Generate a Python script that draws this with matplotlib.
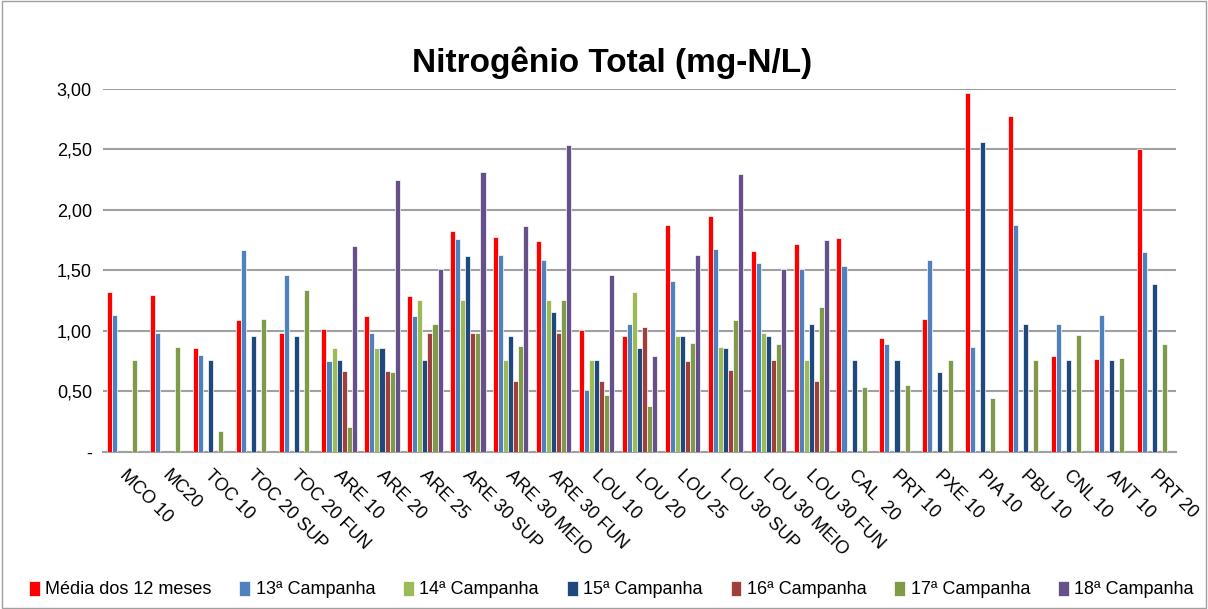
import numpy as np
import matplotlib
matplotlib.use("Agg")
import matplotlib.pyplot as plt
from matplotlib.patches import Rectangle

nan = np.nan
categories = ["MCO 10", "MC20", "TOC 10", "TOC 20 SUP", "TOC 20 FUN", "ARE 10", "ARE 20",
              "ARE 25", "ARE 30 SUP", "ARE 30 MEIO", "ARE 30 FUN", "LOU 10", "LOU 20",
              "LOU 25", "LOU 30 SUP", "LOU 30 MEIO", "LOU 30 FUN", "CAL  20", "PRT 10",
              "PXE 10", "PIA 10", "PBU 10", "CNL 10", "ANT 10", "PRT 20"]

media = [1.32, 1.30, 0.86, 1.09, 0.98, 1.02, 1.12, 1.29, 1.83, 1.78, 1.74, 1.01, 0.96,
         1.88, 1.95, 1.66, 1.72, 1.77, 0.94, 1.10, 2.97, 2.78, 0.79, 0.77, 2.50]
c13 = [1.13, 0.98, 0.80, 1.67, 1.46, 0.75, 0.98, 1.12, 1.76, 1.63, 1.59, 0.51, 1.06,
       1.41, 1.68, 1.56, 1.51, 1.54, 0.89, 1.59, 0.87, 1.88, 1.06, 1.13, 1.65]
c14 = [nan, nan, nan, nan, nan, 0.86, 0.86, 1.26, 1.26, 0.76, 1.26, 0.76, 1.32,
       0.96, 0.87, 0.98, 0.76, nan, nan, nan, nan, nan, nan, nan, nan]
c15 = [nan, nan, 0.76, 0.96, 0.96, 0.76, 0.86, 0.76, 1.62, 0.96, 1.16, 0.76, 0.86,
       0.96, 0.86, 0.96, 1.06, 0.76, 0.76, 0.66, 2.56, 1.06, 0.76, 0.76, 1.39]
c16 = [nan, nan, nan, nan, nan, 0.67, 0.67, 0.98, 0.98, 0.59, 0.98, 0.59, 1.03,
       0.75, 0.68, 0.76, 0.59, nan, nan, nan, nan, nan, nan, nan, nan]
c17 = [0.76, 0.87, 0.17, 1.10, 1.34, 0.21, 0.66, 1.06, 0.98, 0.88, 1.26, 0.47, 0.38,
       0.90, 1.09, 0.89, 1.20, 0.54, 0.55, 0.76, 0.45, 0.76, 0.97, 0.78, 0.89]
c18 = [nan, nan, nan, nan, nan, 1.70, 2.25, 1.51, 2.31, 1.87, 2.54, 1.46, 0.79,
       1.63, 2.30, 1.51, 1.75, nan, nan, nan, nan, nan, nan, nan, nan]

series_names = ["Média dos 12 meses", "13ª Campanha", "14ª Campanha", "15ª Campanha",
                "16ª Campanha", "17ª Campanha", "18ª Campanha"]
series = [media, c13, c14, c15, c16, c17, c18]
colors = ["#FF0000", "#4F81BD", "#9BBB59", "#1F497D", "#A0403D", "#7F9A48", "#66508A"]

yticks = [0, 0.5, 1.0, 1.5, 2.0, 2.5, 3.0]
ytick_labels = ["-", "0,50", "1,00", "1,50", "2,00", "2,50", "3,00"]

plt.rcParams['font.family'] = ['Liberation Sans', 'DejaVu Sans']

fig = plt.figure(figsize=(12.08, 6.09), dpi=100)
ax = fig.add_axes([0.0853, 0.2578, 0.9735 - 0.0853, 0.8539 - 0.2578])

n = len(categories)
slot = 1.0 / 8.5
x = np.arange(n)
for i, (vals, col) in enumerate(zip(series, colors)):
    pos = x - 0.5 + 0.75 * slot + (i + 0.5) * slot
    ax.bar(pos, vals, width=slot, color=col, edgecolor="white", linewidth=0.5,
           label=series_names[i], zorder=3)

ax.set_xlim(-0.5, n - 0.5)
ax.set_ylim(0, 3.0)
ax.set_yticks(yticks)
ax.set_yticklabels(ytick_labels, fontsize=13)
ax.yaxis.grid(True, color="#A0A0A0", linewidth=1.5, zorder=0)
ax.set_axisbelow(True)
for s in ["top", "right", "left"]:
    ax.spines[s].set_visible(False)
ax.spines["bottom"].set_color("#A0A0A0")
ax.spines["bottom"].set_linewidth(1.5)
ax.tick_params(axis="y", length=0, pad=8)
ax.tick_params(axis="x", length=0)
ax.set_xticks(x)
ax.set_xticklabels([])
for xi, lab in zip(x, categories):
    ax.annotate(lab, xy=(xi, 0), xycoords=("data", "axes fraction"),
                xytext=(-2, -15), textcoords="offset points",
                rotation=-45, rotation_mode="anchor", ha="left", va="center",
                fontsize=13)

fig.text(0.507, 0.897, "Nitrogênio Total (mg-N/L)", ha="center", va="center",
         fontsize=24, fontweight="bold")

leg = fig.legend(loc="center", bbox_to_anchor=(0.506, 0.032), ncol=7, frameon=False,
                 fontsize=13, handlelength=0.6, handleheight=0.9, handletextpad=0.3,
                 columnspacing=1.55)

fig.patches.append(Rectangle((0.002, 0.002), 0.996, 0.996, transform=fig.transFigure,
                             fill=False, edgecolor="#A0A0A0", linewidth=1))

fig.savefig("out.png", dpi=100)
